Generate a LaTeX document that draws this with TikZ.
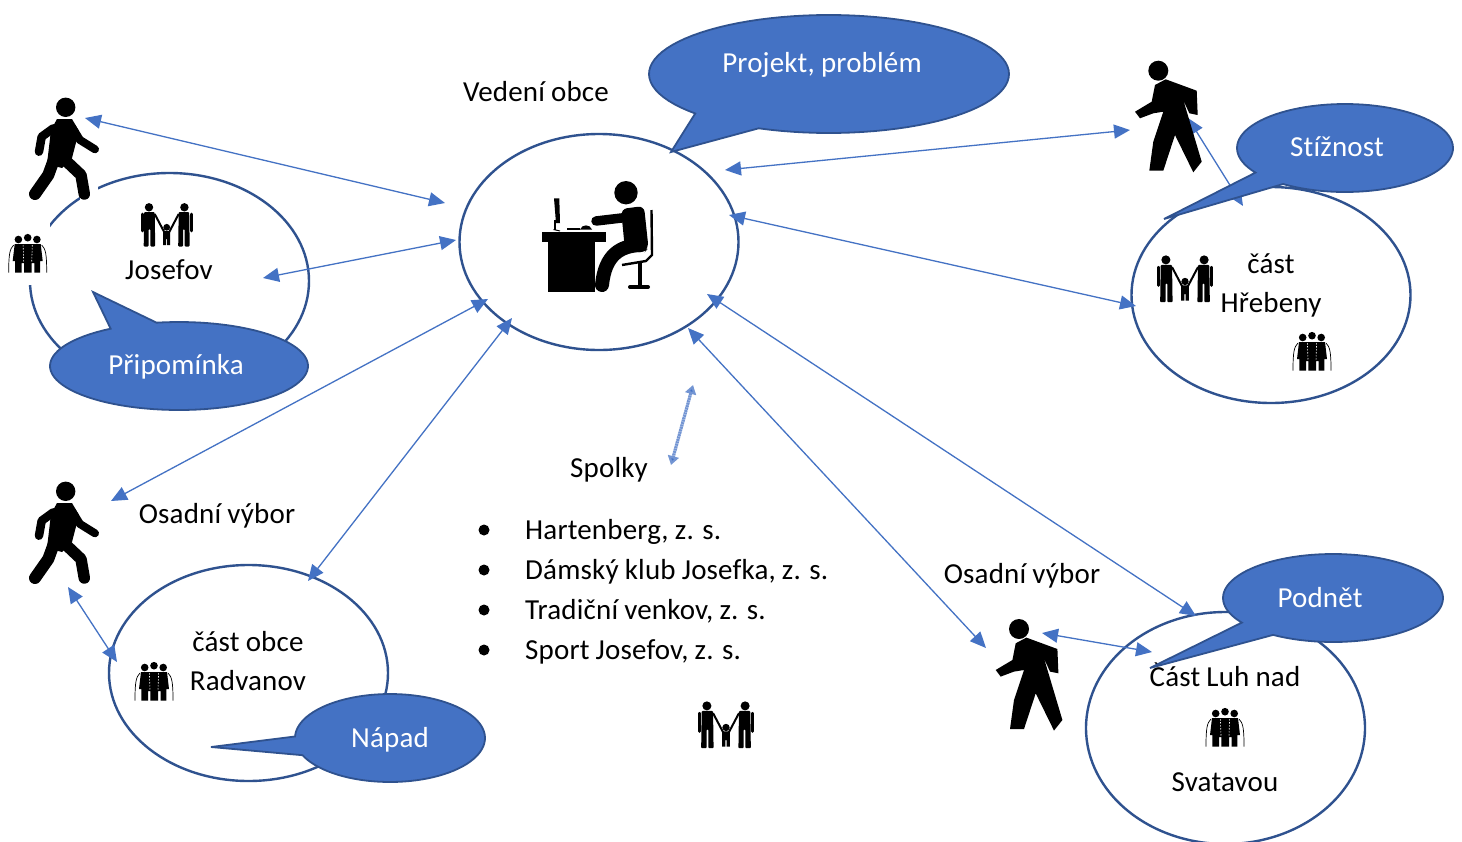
\documentclass[tikz,border=0pt]{standalone}
\usepackage{fontspec}
\setmainfont[LetterSpace=0.6,WordSpace=0.92,Ligatures=NoCommon]{Carlito}
\usetikzlibrary{shapes.geometric,arrows.meta}
\definecolor{bluefill}{HTML}{4472C4}
\definecolor{blueline}{HTML}{2F528F}
\tikzset{
  x=1pt,y=-1pt,
  circ/.style={ellipse,draw=blueline,line width=2.4pt,fill=white,minimum width=279pt,minimum height=216pt,inner sep=0pt,outer sep=0pt},
  lbl/.style={font=\fontsize{29}{29}\selectfont,text=black,inner sep=0pt,text height=23pt,text depth=5pt},
  wlbl/.style={lbl,text=white},
  dbl/.style={draw=bluefill,line width=1.3pt,{Triangle[length=16pt,width=14pt,fill=bluefill]}-{Triangle[length=16pt,width=14pt,fill=bluefill]}},
  faint/.style={draw=bluefill!75,line width=3.2pt,dash pattern=on 2pt off 0.5pt,{Triangle[length=9pt,width=11pt,fill=bluefill]}-{Triangle[length=9pt,width=11pt,fill=bluefill]}},
  walkerA/.pic={
    \fill (0.7,-42.7) circle (9.7);
    \fill (-8,-31) -- (7,-31) -- (14,-19) -- (7,8) -- (-3,18) -- (-18,14) -- (-14,-20) -- cycle;
    \draw[line width=8pt,line cap=round,line join=round] (6.7,-23.3) -- (15,-10) -- (30,-0.7);
    \draw[line width=8.5pt,line cap=round,line join=round] (-11.7,-21.7) -- (-23.3,-13.3) -- (-26,1.7);
    \draw[line width=12pt,line cap=round,line join=round] (-10,6.7) -- (-16.7,25) -- (-30,44);
    \draw[line width=11.5pt,line cap=round,line join=round] (-1.7,8.3) -- (16,25) -- (19.3,44);
  },
  walkerB/.pic={
    \fill (0,0) circle (10);
    \fill (7.4,8.6) -- (38.4,20) -- (39.4,44.3) -- (31,42.6) -- (25,29.3) -- (43.4,91) -- (35,101.6) -- (16.7,64.3) -- (5,100) -- (-9,100) -- (-5,71) -- (5,41) -- (-5,42.6) -- (-18.3,47.6) -- (-23.3,41) -- (-6.6,31) -- (-3.3,14.3) -- cycle;
  },
  famfig/.pic={
    \fill (-17.7,-17.7) circle (4.2);
    \fill[rounded corners=1pt] (-22.5,-13) -- (-12,-13) -- (-11.5,21.5) -- (-16.3,21.5) -- (-16.3,4) -- (-18,4) -- (-18,21.5) -- (-23,21.5) -- cycle;
    \draw[line width=2.6pt,line cap=round] (-24.5,-11) -- (-24.5,6);
    \draw[line width=2pt] (-12,-11) -- (-2,8);
    \fill (17.7,-17.7) circle (4.2);
    \fill[rounded corners=1pt] (22.5,-13) -- (12,-13) -- (11.5,21.5) -- (16.3,21.5) -- (16.3,4) -- (18,4) -- (18,21.5) -- (23,21.5) -- cycle;
    \draw[line width=2.6pt,line cap=round] (24.5,-11) -- (24.5,6);
    \draw[line width=2pt] (12,-11) -- (2,8);
    \fill (0,2.3) circle (3.4);
    \fill (-3.5,6) -- (3.5,6) -- (3.5,20) -- (0.5,20) -- (0.5,14) -- (-0.5,14) -- (-0.5,20) -- (-3.5,20) -- cycle;
  },
  elderfig/.pic={
    \fill (-9.3,-14.5) circle (3.8);
    \fill (0,-16.3) circle (3.8);
    \fill (9.2,-14.5) circle (3.8);
    \fill (-13,-10) -- (13,-10) -- (15,7) -- (12.3,7) -- (12.3,18.7) -- (6.6,18.7) -- (6.6,9) -- (4,9) -- (4,18.7) -- (-3.7,18.7) -- (-3.7,9) -- (-6,9) -- (-6,18.7) -- (-12.7,18.7) -- (-12.7,7) -- (-15,7) -- cycle;
    \draw[white,line width=0.6pt,dash pattern=on 1.5pt off 1.5pt] (-4.6,-9) -- (-4,8) (4.6,-9) -- (4,8);
    \draw[line width=0.7pt] (-14,-9) .. controls (-18,-5) and (-19,0) .. (-19,18.7);
    \draw[line width=0.7pt] (14,-9) .. controls (18,-5) and (19,0) .. (19,18.7);
  },
  deskfig/.pic={
    \fill (626,192.7) circle (11.7);
    \fill (542.3,231.7) rectangle (605.7,241.7);
    \fill (548.3,241.7) rectangle (595,291.5);
    \fill (554,198.3) -- (559.3,198.3) -- (560,223) -- (556,223) -- cycle;
    \fill (553.5,220) rectangle (555.5,230);
    \draw[line width=1pt] (553.5,229.5) -- (560,231);
    \fill (566.5,227.5) rectangle (580,230);
    \fill (580,229.5) .. controls (582,224) and (590,224) .. (592,229.5) -- cycle;
    \draw[line width=9.5pt,line cap=round] (596,221) -- (630,217);
    \fill[rounded corners=6pt] (621,209) -- (644,206) -- (648.5,248) -- (644,253) -- (625,250) -- cycle;
    \draw[line width=14pt,line cap=round] (640,245) .. controls (620,246) and (605,255) .. (602,285);
    \draw[line width=2.4pt,line join=round] (651.5,210) -- (652,255) -- (646,261) -- (622,265);
    \fill (637.5,262) rectangle (641.5,287);
    \draw[line width=4pt,line cap=round] (630,287) -- (648,287);
  }
}
\begin{document}
\begin{tikzpicture}
\useasboundingbox (0,0) rectangle (1462,841);
\fill[white] (0,0) rectangle (1462,841);
% circles
\begin{scope}
\clip (0,0) rectangle (1462,841);
\node[circ] (josefov) at (169.5,281) {};
\node[circ] (obec) at (599,242) {};
\node[circ] (hrebeny) at (1271,295) {};
\node[circ] (radvanov) at (248.5,673) {};
\node[circ,minimum height=232pt] (luh) at (1225.5,728) {};
\end{scope}
% white halos on Josefov circle
\fill[white] (0,222) rectangle (50,285);
\fill[white] (80,178) rectangle (98,205);
% connector ends
\coordinate (a1) at (85,118); \coordinate (b1) at (445,203);
\coordinate (a2) at (263,278); \coordinate (b2) at (456,240);
\coordinate (a3) at (111,501); \coordinate (b3) at (488,299);
\coordinate (a4) at (308,581); \coordinate (b4) at (512,318);
\coordinate (a5) at (725,170); \coordinate (b5) at (1130,130);
\coordinate (a6) at (729,215); \coordinate (b6) at (1136,306);
\coordinate (a7) at (707,294); \coordinate (b7) at (1196,616);
\coordinate (a8) at (688,328); \coordinate (b8) at (986,648);
\coordinate (a9) at (1188,118); \coordinate (b9) at (1243,206);
\coordinate (a10) at (1042,633); \coordinate (b10) at (1152,652);
\coordinate (a11) at (68,587); \coordinate (b11) at (117,662);
\coordinate (a12) at (693,385); \coordinate (b12) at (671,465);
\foreach \n in {1,...,11} \draw[dbl] (a\n) -- (b\n);
\draw[faint] (a12) -- (b12);
% icons
\pic[black] at (65,150) {walkerA};
\pic[black] at (65,534) {walkerA};
\pic[black] at (1158.3,70.7) {walkerB};
\pic[black] at (1019,629) {walkerB};
\pic[black] at (0,0) {deskfig};
\pic[black] at (166.7,225) {famfig};
\pic[black,scale=1.08] at (1185,279) {famfig};
\pic[black,scale=1.08] at (726,725) {famfig};
\pic[black] at (27.7,254) {elderfig};
\pic[black] at (1312,352) {elderfig};
\pic[black] at (154,682) {elderfig};
\pic[black] at (1225,728) {elderfig};
% plain labels
\node[lbl] (t1) at (536,92) {Vedení obce};
\node[lbl] (t2) at (169,270) {Josefov};
\node[lbl] (t3) at (217,514) {Osadní výbor};
\node[lbl] (t4) at (248,642) {část obce};
\node[lbl] (t5) at (248,681) {Radvanov};
\node[lbl] (t6) at (609,468) {Spolky};
\node[lbl] (t7) at (1022,574) {Osadní výbor};
\node[lbl] (t8) at (1225,677) {Část Luh nad};
\node[lbl] (t9) at (1225,782) {Svatavou};
\node[lbl] (t10) at (1271,264) {část};
\node[lbl] (t11) at (1271,303) {Hřebeny};
% bullets
\foreach \yy/\tt/\nm in {530/{Hartenberg, z. s.}/s1,570/{Dámský klub Josefka, z. s.}/s2,610/{Tradiční venkov, z. s.}/s3,650/{Sport Josefov, z. s.}/s4}{
  \fill (484,\yy) circle (5.5);
  \node[lbl,anchor=west] (\nm) at (525,\yy) {\tt};
}
% callouts
\newcommand{\speech}[8]{%
  \draw[fill=bluefill,draw=blueline,line width=1.8pt,line join=miter,miter limit=4]
    plot[domain=#5:#6,samples=90] ({#1+#3*cos(\x)},{#2+#4*sin(\x)}) -- (#7,#8) -- cycle;}
\speech{829}{74}{180}{59}{138}{473}{671}{152}
\speech{1345}{148}{108}{44}{146}{485}{1164}{219}
\speech{179}{366}{129}{44}{260}{598}{93}{292}
\speech{1333}{598}{110}{44}{146}{483}{1150}{668}
\speech{390}{738}{95}{44}{182}{517}{211}{747}
\node[wlbl] (c1) at (822,63) {Projekt, problém};
\node[wlbl] (c2) at (1337,147) {Stížnost};
\node[wlbl] (c3) at (176,365) {Připomínka};
\node[wlbl] (c4) at (1320,598) {Podnět};
\node[wlbl] (c5) at (390,738) {Nápad};
\end{tikzpicture}
\end{document}
